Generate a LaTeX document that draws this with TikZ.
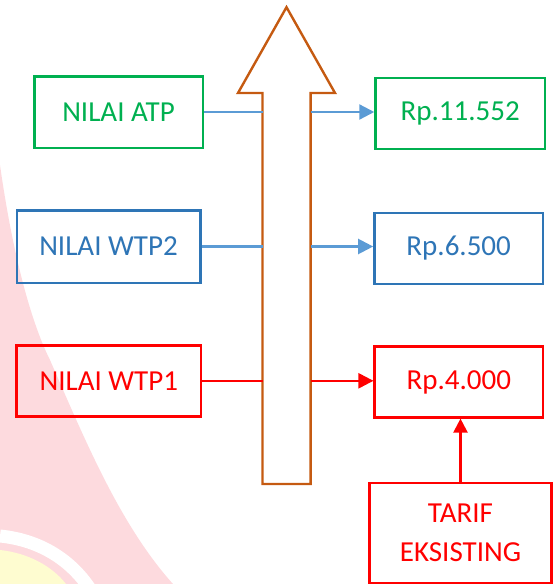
\documentclass[tikz,border=0pt]{standalone}
\usepackage{fontspec}
\setmainfont{Carlito}
\usetikzlibrary{arrows.meta}
\definecolor{cgreen}{RGB}{0,176,80}
\definecolor{cblue}{RGB}{46,117,182}
\definecolor{clight}{RGB}{91,155,213}
\definecolor{cred}{RGB}{255,0,0}
\definecolor{corange}{RGB}{197,90,17}
\definecolor{wmpink}{RGB}{253,218,222}
\definecolor{wmyellow}{RGB}{254,252,208}
\tikzset{
  box/.style={draw, line width=2.4pt, rectangle, inner sep=0pt, align=center,
    font=\fontsize{29}{38.6}\selectfont},
  conn/.style={line width=2.3pt},
  tip/.style={-{Triangle[length=15pt,width=15pt]}},
}
\begin{document}
\begin{tikzpicture}[x=1pt,y=-1pt]
\useasboundingbox (0,0) rectangle (552,584);
% watermark
\fill[wmpink] (0,165) .. controls (12,250) and (30,320) .. (50,360) .. controls (85,440) and (120,525) .. (173,584) -- (0,584) -- cycle;
\draw[white, line width=13pt] (0,536) .. controls (40,540) and (72,560) .. (92,592);
\fill[wmyellow] (0,550) .. controls (28,553) and (52,566) .. (66,584) -- (0,584) -- cycle;
% big arrow
\draw[corange, line width=2.4pt, line join=miter] (286.5,7.2) -- (335,93) -- (310.6,93) -- (310.6,484) -- (262.5,484) -- (262.5,93) -- (238,93) -- cycle;
\coordinate (shaftL) at (262.5,300);
\coordinate (shaftR) at (310.6,300);
% boxes
\node[box, cgreen, minimum width=168.4pt, minimum height=71.4pt] (atp) at (118.5,112) {NILAI ATP};
\node[box, cgreen, minimum width=169.5pt, minimum height=71pt] (r1) at (460.2,113.5) {Rp.11.552};
\node[box, cblue, minimum width=183.6pt, minimum height=72.4pt] (wtp2) at (108.5,246.5) {NILAI WTP2};
\node[box, cblue, minimum width=168.7pt, minimum height=71pt] (r2) at (458.7,248.5) {Rp.6.500};
\node[box, cred, minimum width=184.3pt, minimum height=71pt] (wtp1) at (108.8,380.8) {NILAI WTP1};
\node[box, cred, minimum width=168.3pt, minimum height=70.8pt] (r3) at (458.8,382) {Rp.4.000};
\node[box, cred, minimum width=182.3pt, minimum height=100pt] (tarif) at (460.5,532.7) {TARIF\\EKSISTING};
% connectors
\draw[conn, clight] (atp.east) -- (atp.east -| shaftL);
\draw[conn, clight, tip] (atp.east -| shaftR) -- (atp.east -| r1.west);
\draw[conn, clight] (wtp2.east) -- (wtp2.east -| shaftL);
\draw[conn, clight, tip] (wtp2.east -| shaftR) -- (wtp2.east -| r2.west);
\draw[conn, cred] (wtp1.east) -- (wtp1.east -| shaftL);
\draw[conn, cred, tip] (wtp1.east -| shaftR) -- (wtp1.east -| r3.west);
\draw[conn, cred, -{Triangle[length=14pt,width=14pt]}] (tarif.north) -- (tarif.north |- r3.south);
\end{tikzpicture}
\end{document}
